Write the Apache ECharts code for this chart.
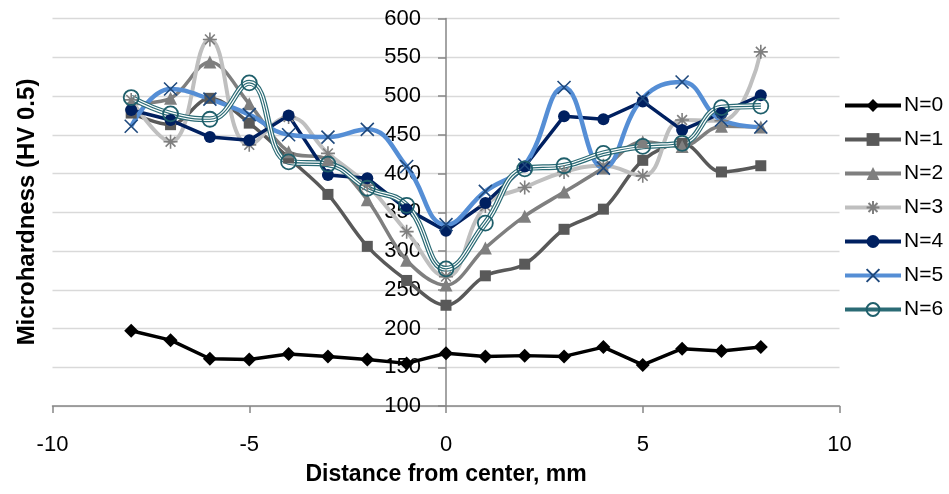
<!DOCTYPE html>
<html>
<head>
<meta charset="utf-8">
<script src="https://cdn.jsdelivr.net/npm/echarts@6/dist/echarts.min.js"></script>
<style>
html,body{margin:0;padding:0;background:#fff;}
#chart{width:949px;height:494px;}
</style>
</head>
<body>
<div id="chart"></div>
<script>
const xValues = [-8,-7,-6,-5,-4,-3,-2,-1,0,1,2,3,4,5,6,7,8];
const n0 = [197,185,161,160,167,164,160,155,168,164,165,164,176,153,174,171,176];
const n1 = [478,463,497,465,420,373,306,262,230,268,283,328,354,417,439,402,410];
const n2 = [490,497,544,490,428,418,366,288,256,304,345,376,407,441,435,461,460];
const n3 = [495,441,573,437,473,426,385,325,267,358,382,402,410,397,469,468,557];
const n4 = [482,469,447,443,475,398,394,354,326,362,409,474,470,493,456,478,501];
const n5 = [461,509,496,476,450,447,457,409,334,377,411,511,407,497,518,469,460];
const n6 = [498,477,470,517,415,412,381,359,277,336,406,410,426,435,439,485,487];
const seriesNames = ['N=0','N=1','N=2','N=3','N=4','N=5','N=6'];
const xTicks = [-10,-5,0,5,10];
const yTicks = [100,150,200,250,300,350,400,450,500,550,600];

function pairs(arr){ return xValues.map((x,i)=>[x,arr[i]]); }

const FONT = 'Liberation Sans';
const starPath = 'path://M5,0L5,10M0,5L10,5M1.5,1.5L8.5,8.5M8.5,1.5L1.5,8.5';
const xPath = 'path://M0,0L10,10M10,0L0,10';

const W = 949, H = 494;
const gridLeft = 52.5, gridRight = 109.5, gridTop = 18.5, gridBottom = 88;
const plotW = W - gridLeft - gridRight;
const xMin = xTicks[0], xMax = xTicks[xTicks.length-1];
// shift the y axis so it crosses the x axis at x = 0
const yAxisShift = -plotW * (0 - xMin) / (xMax - xMin);

const chart = echarts.init(document.getElementById('chart'));
const option = {
  animation:false,
  backgroundColor:'#fff',
  grid:{left:gridLeft, right:gridRight, top:gridTop, bottom:gridBottom, containLabel:false},
  legend:{
    data:seriesNames,
    orient:'vertical',
    left:838, top:90,
    itemWidth:56, itemHeight:16, itemGap:13,
    lineStyle:{width:4},
    textStyle:{fontFamily:FONT, fontSize:21, color:'#000', lineHeight:20, padding:[0,0,0,-2]}
  },
  xAxis:{
    type:'value', min:xMin, max:xMax, interval:5,
    name:'Distance from center, mm', nameLocation:'middle', nameGap:57,
    nameTextStyle:{fontFamily:FONT, fontSize:23, fontWeight:'bold', color:'#000'},
    axisLine:{onZero:false, lineStyle:{color:'#868686', width:1.5}},
    axisTick:{show:true, length:7, lineStyle:{color:'#868686', width:1.5}},
    axisLabel:{fontFamily:FONT, fontSize:22, color:'#000', margin:28},
    splitLine:{show:false}
  },
  yAxis:{
    type:'value', min:yTicks[0], max:yTicks[yTicks.length-1], interval:50,
    position:'left', offset:yAxisShift,
    axisLine:{show:true, onZero:false, lineStyle:{color:'#868686', width:1.5}},
    axisTick:{show:true, length:8, lineStyle:{color:'#868686', width:1.5}},
    axisLabel:{fontFamily:FONT, fontSize:22, color:'#000', margin:25},
    splitLine:{show:true, lineStyle:{color:'#d9d9d9', width:1.3}}
  },
  graphic:[{
    type:'text', x:27, y:212, rotation:Math.PI/2,
    style:{text:'Microhardness (HV 0.5)', fill:'#000', font:'bold 24px "Liberation Sans"',
           textAlign:'center', textVerticalAlign:'middle'}
  }],
  series:[
    {name:'N=0', type:'line', data:pairs(n0), smooth:false,
     symbol:'diamond', symbolSize:14,
     lineStyle:{color:'#000', width:3.5}, itemStyle:{color:'#000'}},
    {name:'N=1', type:'line', data:pairs(n1), smooth:0.35,
     symbol:'rect', symbolSize:11,
     lineStyle:{color:'#595959', width:3.5}, itemStyle:{color:'#595959'}},
    {name:'N=2', type:'line', data:pairs(n2), smooth:0.35,
     symbol:'triangle', symbolSize:13,
     lineStyle:{color:'#7f7f7f', width:3.5}, itemStyle:{color:'#7f7f7f'}},
    {name:'N=3', type:'line', data:pairs(n3), smooth:0.45,
     symbol:starPath, symbolSize:14,
     lineStyle:{color:'#bfbfbf', width:4}, itemStyle:{color:'rgba(0,0,0,0)', borderColor:'#7f7f7f', borderWidth:1.6}},
    {name:'N=4', type:'line', data:pairs(n4), smooth:false,
     symbol:'circle', symbolSize:12,
     lineStyle:{color:'#002060', width:3.5}, itemStyle:{color:'#002060'}},
    {name:'N=5', type:'line', data:pairs(n5), smooth:0.45,
     symbol:xPath, symbolSize:13,
     lineStyle:{color:'#558ed5', width:4.5}, itemStyle:{color:'rgba(0,0,0,0)', borderColor:'#1f497d', borderWidth:1.6}},
    {name:'N=6', type:'line', data:pairs(n6), smooth:0.45,
     symbol:'circle', symbolSize:15,
     lineStyle:{color:'#2b6b75', width:6},
     itemStyle:{color:'rgba(255,255,255,0)', borderColor:'#1f5f6b', borderWidth:1.8}},
    {name:'N=6 gap', type:'line', data:pairs(n6), smooth:0.45,
     symbol:'none', silent:true,
     lineStyle:{color:'#fff', width:3.6}},
    {name:'N=6 core', type:'line', data:pairs(n6), smooth:0.45,
     symbol:'none', silent:true,
     lineStyle:{color:'#2b6b75', width:1.2}}
  ]
};
chart.setOption(option);
</script>
</body>
</html>
